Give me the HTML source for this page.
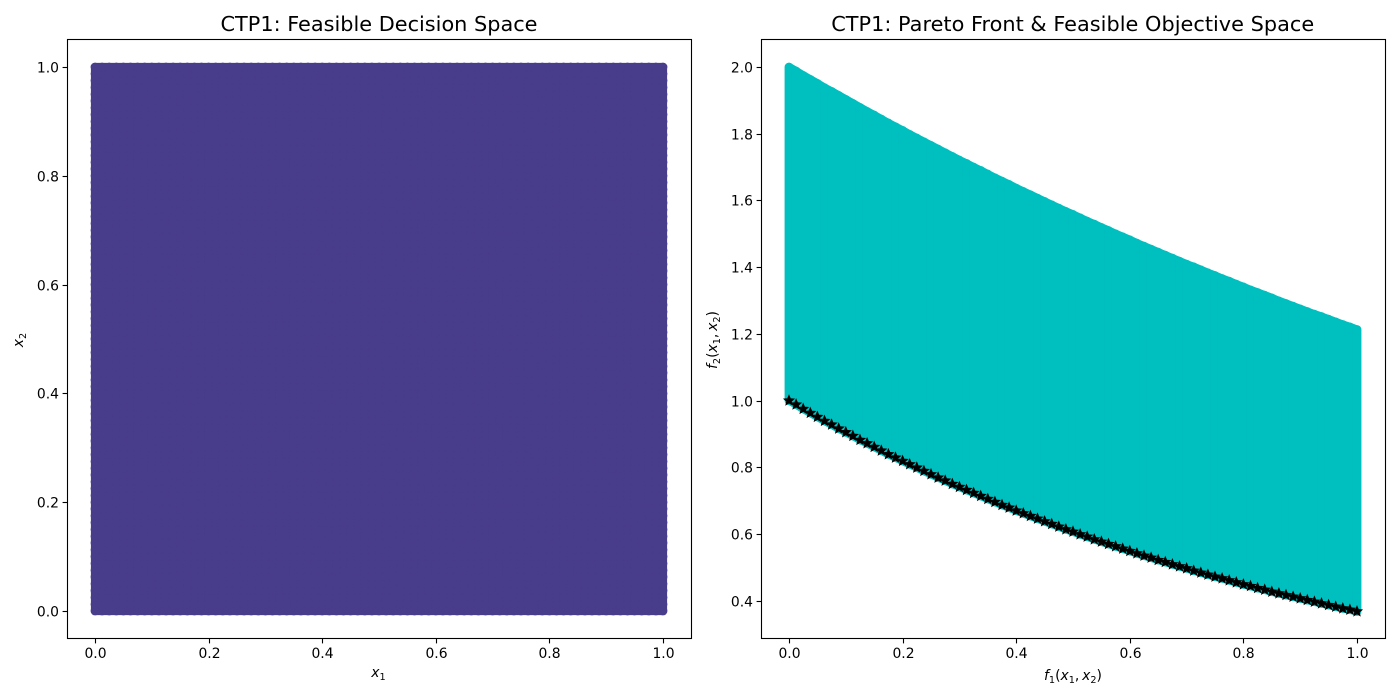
<!DOCTYPE html>
<html>
<head>
<meta charset="utf-8">
<title>CTP1 feasible spaces</title>
<style>
html,body{margin:0;padding:0;background:#fff;width:1400px;height:700px;overflow:hidden}
svg{display:block}
text{font-family:"DejaVu Sans","Liberation Sans",sans-serif;fill:#000}
.tick{font-size:13.9px}
.title{font-size:20.83px;text-anchor:middle}
.axl{font-size:13.9px;text-anchor:middle}
.it{font-style:italic}
.sub{font-size:9.7px}
</style>
</head>
<body>
<svg id="fig" xmlns="http://www.w3.org/2000/svg" width="1400" height="700" viewBox="0 0 1400 700">
  <rect x="0" y="0" width="1400" height="700" fill="#fff"/>
  <text class="title" x="379" y="31">CTP1: Feasible Decision Space</text>
  <text class="title" x="1072.7" y="31" textLength="483" lengthAdjust="spacing">CTP1: Pareto Front &amp; Feasible Objective Space</text>
  <text class="axl" x="378.5" y="677"><tspan class="it">x</tspan><tspan class="sub" dy="3">1</tspan></text>
  <text class="axl" transform="translate(23 340) rotate(-90)"><tspan class="it">x</tspan><tspan class="sub" dy="3">2</tspan></text>
  <text class="axl" x="1073" y="680"><tspan class="it">f</tspan><tspan class="sub" dy="3">1</tspan><tspan dy="-3">(</tspan><tspan class="it">x</tspan><tspan class="sub" dy="3">1</tspan><tspan dy="-3">,&#8201;</tspan><tspan class="it">x</tspan><tspan class="sub" dy="3">2</tspan><tspan dy="-3">)</tspan></text>
  <text class="axl" transform="translate(717 340) rotate(-90)"><tspan class="it">f</tspan><tspan class="sub" dy="3">2</tspan><tspan dy="-3">(</tspan><tspan class="it">x</tspan><tspan class="sub" dy="3">1</tspan><tspan dy="-3">,&#8201;</tspan><tspan class="it">x</tspan><tspan class="sub" dy="3">2</tspan><tspan dy="-3">)</tspan></text>
</svg>
<script>
const x1Values = [0,0.0125,0.025,0.0375,0.05,0.0625,0.075,0.0875,0.1,0.1125,0.125,0.1375,0.15,0.1625,0.175,0.1875,0.2,0.2125,0.225,0.2375,0.25,0.2625,0.275,0.2875,0.3,0.3125,0.325,0.3375,0.35,0.3625,0.375,0.3875,0.4,0.4125,0.425,0.4375,0.45,0.4625,0.475,0.4875,0.5,0.5125,0.525,0.5375,0.55,0.5625,0.575,0.5875,0.6,0.6125,0.625,0.6375,0.65,0.6625,0.675,0.6875,0.7,0.7125,0.725,0.7375,0.75,0.7625,0.775,0.7875,0.8,0.8125,0.825,0.8375,0.85,0.8625,0.875,0.8875,0.9,0.9125,0.925,0.9375,0.95,0.9625,0.975,0.9875,1];
const x2Values = [0,0.0125,0.025,0.0375,0.05,0.0625,0.075,0.0875,0.1,0.1125,0.125,0.1375,0.15,0.1625,0.175,0.1875,0.2,0.2125,0.225,0.2375,0.25,0.2625,0.275,0.2875,0.3,0.3125,0.325,0.3375,0.35,0.3625,0.375,0.3875,0.4,0.4125,0.425,0.4375,0.45,0.4625,0.475,0.4875,0.5,0.5125,0.525,0.5375,0.55,0.5625,0.575,0.5875,0.6,0.6125,0.625,0.6375,0.65,0.6625,0.675,0.6875,0.7,0.7125,0.725,0.7375,0.75,0.7625,0.775,0.7875,0.8,0.8125,0.825,0.8375,0.85,0.8625,0.875,0.8875,0.9,0.9125,0.925,0.9375,0.95,0.9625,0.975,0.9875,1];
const f1Values = [0,0.0125,0.025,0.0375,0.05,0.0625,0.075,0.0875,0.1,0.1125,0.125,0.1375,0.15,0.1625,0.175,0.1875,0.2,0.2125,0.225,0.2375,0.25,0.2625,0.275,0.2875,0.3,0.3125,0.325,0.3375,0.35,0.3625,0.375,0.3875,0.4,0.4125,0.425,0.4375,0.45,0.4625,0.475,0.4875,0.5,0.5125,0.525,0.5375,0.55,0.5625,0.575,0.5875,0.6,0.6125,0.625,0.6375,0.65,0.6625,0.675,0.6875,0.7,0.7125,0.725,0.7375,0.75,0.7625,0.775,0.7875,0.8,0.8125,0.825,0.8375,0.85,0.8625,0.875,0.8875,0.9,0.9125,0.925,0.9375,0.95,0.9625,0.975,0.9875,1];
const feasibleUpper = [2.000,1.988,1.975,1.963,1.951,1.938,1.927,1.915,1.903,1.891,1.879,1.867,1.856,1.844,1.832,1.821,1.810,1.798,1.787,1.776,1.765,1.754,1.743,1.732,1.721,1.711,1.700,1.690,1.679,1.668,1.658,1.648,1.637,1.627,1.617,1.607,1.597,1.587,1.577,1.567,1.558,1.548,1.538,1.529,1.519,1.510,1.500,1.491,1.482,1.472,1.463,1.454,1.445,1.436,1.427,1.418,1.409,1.401,1.392,1.383,1.375,1.366,1.358,1.349,1.341,1.332,1.324,1.316,1.308,1.299,1.291,1.283,1.275,1.267,1.259,1.252,1.244,1.236,1.228,1.221,1.213];
const paretoFront = [1.000,0.988,0.975,0.963,0.951,0.939,0.928,0.916,0.905,0.894,0.882,0.872,0.861,0.850,0.839,0.829,0.819,0.809,0.799,0.789,0.779,0.769,0.760,0.750,0.741,0.732,0.723,0.714,0.705,0.696,0.687,0.679,0.670,0.662,0.654,0.646,0.638,0.630,0.622,0.614,0.607,0.599,0.592,0.584,0.577,0.570,0.563,0.556,0.549,0.542,0.535,0.529,0.522,0.516,0.509,0.503,0.497,0.490,0.484,0.478,0.472,0.467,0.461,0.455,0.449,0.444,0.438,0.433,0.427,0.422,0.417,0.412,0.407,0.402,0.397,0.392,0.387,0.382,0.377,0.373,0.368];
const leftXTicks = ["0.0","0.2","0.4","0.6","0.8","1.0"];
const leftYTicks = ["0.0","0.2","0.4","0.6","0.8","1.0"];
const rightXTicks = ["0.0","0.2","0.4","0.6","0.8","1.0"];
const rightYTicks = ["0.4","0.6","0.8","1.0","1.2","1.4","1.6","1.8","2.0"];

const NS = 'http://www.w3.org/2000/svg';
const fig = document.getElementById('fig');
function make(tag, attrs, parent) {
  const el = document.createElementNS(NS, tag);
  for (const k in attrs) el.setAttribute(k, attrs[k]);
  parent.appendChild(el);
  return el;
}
const leftBox = {l:67.5, r:691.5, t:39.5, b:638.5};
const rightBox = {l:761.5, r:1385.5, t:39.5, b:638.5};
function leftX(v){ return 95 + v * 568; }
function leftY(v){ return 611 - v * 544; }
function rightX(v){ return 789 + v * 568; }
function rightY(v){ return 400.6 - (v - 1) * 333.6; }

/* left scatter: dense grid, with an underlay so no gaps show between markers */
const leftGroup = make('g', {fill:'#483D8B'}, fig);


const xMinPx = leftX(Math.min.apply(null, x1Values));
const xMaxPx = leftX(Math.max.apply(null, x1Values));
const yTopPx = leftY(Math.max.apply(null, x2Values));
const yBotPx = leftY(Math.min.apply(null, x2Values));
const leftUnder = make('rect', {x:xMinPx, y:yTopPx, width:xMaxPx-xMinPx, height:yBotPx-yTopPx, fill:'#483D8B', stroke:'#483D8B', 'stroke-width':8.2, 'stroke-linejoin':'round'}, leftGroup);


x1Values.forEach(function (xv) {
  x2Values.forEach(function (yv) {
    const c = make('circle', {cx:leftX(xv), cy:leftY(yv), r:4.4}, leftGroup);
    
    
  });
});

/* right feasible region: outline polygon plus one column of marks per f1 sample */
const feasGroup = make('g', {stroke:'#00BFBF', 'stroke-width':8.8, 'stroke-linecap':'round'}, fig);


const upperPts = f1Values.map(function (fv, i) { return rightX(fv).toFixed(2) + ',' + rightY(feasibleUpper[i]).toFixed(2); });
const lowerPts = f1Values.map(function (fv, i) { return rightX(fv).toFixed(2) + ',' + rightY(paretoFront[i]).toFixed(2); }).reverse();
const feasPoly = make('polygon', {points:upperPts.concat(lowerPts).join(' '), fill:'#00BFBF', 'stroke-width':8.2, 'stroke-linejoin':'round'}, feasGroup);


f1Values.forEach(function (fv, i) {
  const ln = make('line', {x1:rightX(fv), x2:rightX(fv), y1:rightY(feasibleUpper[i]), y2:rightY(paretoFront[i])}, feasGroup);
  
  
});

/* pareto front stars */
function starPath(cx, cy, R) {
  const r = R * 0.45;
  let d = '';
  for (let k = 0; k < 10; k++) {
    const a = -Math.PI / 2 + k * Math.PI / 5;
    const q = k % 2 ? r : R;
    d += (k ? 'L' : 'M') + (cx + q * Math.cos(a)).toFixed(2) + ' ' + (cy + q * Math.sin(a)).toFixed(2);
  }
  return d + 'Z';
}
const frontGroup = make('g', {fill:'#000', stroke:'#000', 'stroke-width':1.4, 'stroke-linejoin':'miter'}, fig);


f1Values.forEach(function (fv, i) {
  const p = make('path', {d:starPath(rightX(fv), rightY(paretoFront[i]), 4.6)}, frontGroup);
  
  
});

/* axes frames and ticks */
function drawAxes(box, xt, yt, sx, sy, prefix) {
  const frame = make('rect', {x:box.l, y:box.t, width:box.r-box.l, height:box.b-box.t, fill:'none', stroke:'#000', 'stroke-width':1.1}, fig);
  
  
  xt.forEach(function (label) {
    const px = Math.round(sx(parseFloat(label))) + 0.5;
    const t = make('line', {x1:px, x2:px, y1:box.b, y2:box.b+4.9, stroke:'#000', 'stroke-width':1.1}, fig);
    
    
    const tx = make('text', {x:px, y:box.b+19.5, 'text-anchor':'middle', class:'tick'}, fig);
    
    
    tx.textContent = label;
  });
  yt.forEach(function (label) {
    const py = Math.round(sy(parseFloat(label))) + 0.5;
    const t = make('line', {x1:box.l-4.9, x2:box.l, y1:py, y2:py, stroke:'#000', 'stroke-width':1.1}, fig);
    
    
    const tx = make('text', {x:box.l-8.5, y:py+5, 'text-anchor':'end', class:'tick'}, fig);
    
    
    tx.textContent = label;
  });
}
drawAxes(leftBox, leftXTicks, leftYTicks, leftX, leftY, 'left');
drawAxes(rightBox, rightXTicks, rightYTicks, rightX, rightY, 'right');
</script>
</body>
</html>
